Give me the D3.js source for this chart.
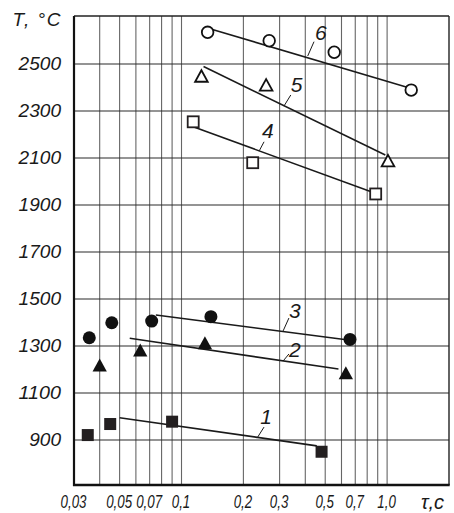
<!DOCTYPE html>
<html><head><meta charset="utf-8">
<script src="https://cdn.jsdelivr.net/npm/d3@7/dist/d3.min.js"></script>
<style>
html,body{margin:0;padding:0;background:#fff;}
text{font-family:"Liberation Sans",Arial,sans-serif;font-style:italic;fill:#1a1a1a;}
</style></head>
<body>
<svg id="chart" width="454" height="513"></svg>
<script>
// ---- data ----
const xGridValues = [0.04,0.05,0.06,0.07,0.08,0.09,0.1,0.2,0.3,0.4,0.5,0.6,0.7,0.8,0.9,1.0];
const xTickValues = [0.03,0.05,0.07,0.1,0.2,0.3,0.5,0.7,1.0];
const xTickLabels = ["0,03","0,05","0,07","0,1","0,2","0,3","0,5","0,7","1,0"];
const yTickValues = [900,1100,1300,1500,1700,1900,2100,2300,2500];
const yTickLabels = ["900","1100","1300","1500","1700","1900","2100","2300","2500"];

const series1 = [[0.035,921],[0.045,968],[0.09,978],[0.48,850]];
const series2 = [[0.04,1219],[0.063,1283],[0.13,1314],[0.63,1186]];
const series3 = [[0.0356,1335],[0.0458,1399],[0.0716,1406],[0.139,1425],[0.66,1328]];
const series4 = [[0.114,2254],[0.222,2080],[0.88,1947]];
const series5 = [[0.125,2449],[0.258,2411],[1.01,2089]];
const series6 = [[0.134,2635],[0.267,2599],[0.553,2550],[1.31,2389]];

const fit1 = [[0.05,995],[0.455,875]];
const fit2 = [[0.056,1333],[0.58,1202]];
const fit3 = [[0.075,1432],[0.62,1328]];
const fit4 = [[0.114,2233],[0.83,1957]];
const fit5 = [[0.128,2489],[0.98,2113]];
const fit6 = [[0.14,2648],[1.25,2401]];

const curveLabels = ["1","2","3","4","5","6"];
const labelPos = [[0.258,1002],[0.356,1283],[0.356,1453],[0.263,2217],[0.363,2413],[0.476,2634]];
const leaders = [
  [[0.233,908],[0.252,955]],
  [[0.312,1236],[0.333,1266]],
  [[0.312,1364],[0.333,1419]],
  [[0.239,2131],[0.252,2169]],
  [[0.315,2321],[0.340,2368]],
  [[0.411,2534],[0.441,2595]]
];

// ---- layout ----
const L = 74, R = 449, T = 16, B = 485;
const svg = d3.select("#chart");
const x = d3.scaleLog().domain([0.03, 2.0]).range([L, R]);
const y = d3.scaleLinear().domain([900, 2500]).range([440, 64]);

// vertical grid
svg.append("g").selectAll("line").data(xGridValues).join("line")
  .attr("x1", d => x(d)).attr("x2", d => x(d))
  .attr("y1", T).attr("y2", B)
  .attr("stroke", "#666").attr("stroke-width", 1.1);

// horizontal grid
svg.append("g").selectAll("line").data(yTickValues).join("line")
  .attr("x1", L).attr("x2", R)
  .attr("y1", d => y(d)).attr("y2", d => y(d))
  .attr("stroke", "#2a2a2a").attr("stroke-width", 1.2);

// frame
svg.append("line").attr("x1", L).attr("x2", R).attr("y1", T).attr("y2", T).attr("stroke", "#222").attr("stroke-width", 1.4);
svg.append("line").attr("x1", R).attr("x2", R).attr("y1", T).attr("y2", B).attr("stroke", "#222").attr("stroke-width", 1.4);
svg.append("line").attr("x1", L).attr("x2", L).attr("y1", T).attr("y2", B + 1).attr("stroke", "#111").attr("stroke-width", 2.2);
svg.append("line").attr("x1", L - 1).attr("x2", R + 0.7).attr("y1", B).attr("y2", B).attr("stroke", "#111").attr("stroke-width", 2.4);

// axis labels
svg.append("g").selectAll("text").data(yTickValues).join("text")
  .attr("x", 61).attr("y", d => y(d) - 0.5)
  .attr("text-anchor", "end").attr("dominant-baseline", "central")
  .attr("textLength", (d, i) => yTickLabels[i].length * 10.6)
  .attr("lengthAdjust", "spacingAndGlyphs")
  .style("font-size", "18px")
  .text((d, i) => yTickLabels[i]);

svg.append("g").selectAll("text").data(xTickValues).join("text")
  .attr("transform", d => `translate(${x(d) - 0.5},502) scale(0.74,1)`)
  .attr("text-anchor", "middle").attr("dominant-baseline", "central")
  .style("font-size", "18px")
  .text((d, i) => xTickLabels[i]);

svg.append("text").attr("x", 12.5).attr("y", 19.7).attr("dominant-baseline", "central")
  .attr("textLength", 48).attr("lengthAdjust", "spacing")
  .style("font-size", "19px").text("T, °C");
svg.append("text").attr("x", 421).attr("y", 502).attr("dominant-baseline", "central")
  .style("font-size", "20px").text("τ,c");

// fit lines
const lineGen = d3.line().x(d => x(d[0])).y(d => y(d[1]));
[fit1, fit2, fit3, fit4, fit5, fit6].forEach(f => {
  svg.append("path").attr("d", lineGen(f)).attr("fill", "none")
    .attr("stroke", "#1a1a1a").attr("stroke-width", 1.6);
});

// leaders
svg.append("g").selectAll("line").data(leaders).join("line")
  .attr("x1", d => x(d[0][0])).attr("y1", d => y(d[0][1]))
  .attr("x2", d => x(d[1][0])).attr("y2", d => y(d[1][1]))
  .attr("stroke", "#1a1a1a").attr("stroke-width", 1);

svg.append("g").selectAll("text").data(labelPos).join("text")
  .attr("x", d => x(d[0])).attr("y", d => y(d[1]))
  .attr("text-anchor", "middle").attr("dominant-baseline", "central")
  .style("font-size", "21px")
  .text((d, i) => curveLabels[i]);

// markers
const tri = (s) => `M0,${-s*0.5}L${s*0.55},${s*0.5}L${-s*0.55},${s*0.5}Z`;
function squares(data, filled) {
  svg.append("g").selectAll("rect").data(data).join("rect")
    .attr("x", d => x(d[0]) - (filled ? 6 : 5.5)).attr("y", d => y(d[1]) - (filled ? 6 : 5.5))
    .attr("width", filled ? 12 : 11).attr("height", filled ? 12 : 11)
    .attr("fill", filled ? "#231f20" : "#fff")
    .attr("stroke", "#231f20").attr("stroke-width", filled ? 0 : 1.8);
}
function circles(data, filled) {
  svg.append("g").selectAll("circle").data(data).join("circle")
    .attr("cx", d => x(d[0])).attr("cy", d => y(d[1]))
    .attr("r", filled ? 6.5 : 5.8)
    .attr("fill", filled ? "#111" : "#fff")
    .attr("stroke", "#111").attr("stroke-width", filled ? 0 : 1.8);
}
function triangles(data, filled) {
  svg.append("g").selectAll("path").data(data).join("path")
    .attr("transform", d => `translate(${x(d[0])},${y(d[1])})`)
    .attr("d", tri(filled ? 13 : 11.5))
    .attr("fill", filled ? "#111" : "#fff")
    .attr("stroke", "#111").attr("stroke-width", filled ? 0 : 1.8)
    .attr("stroke-linejoin", "miter");
}
squares(series1, true);
triangles(series2, true);
circles(series3, true);
squares(series4, false);
triangles(series5, false);
circles(series6, false);
</script>
</body></html>
